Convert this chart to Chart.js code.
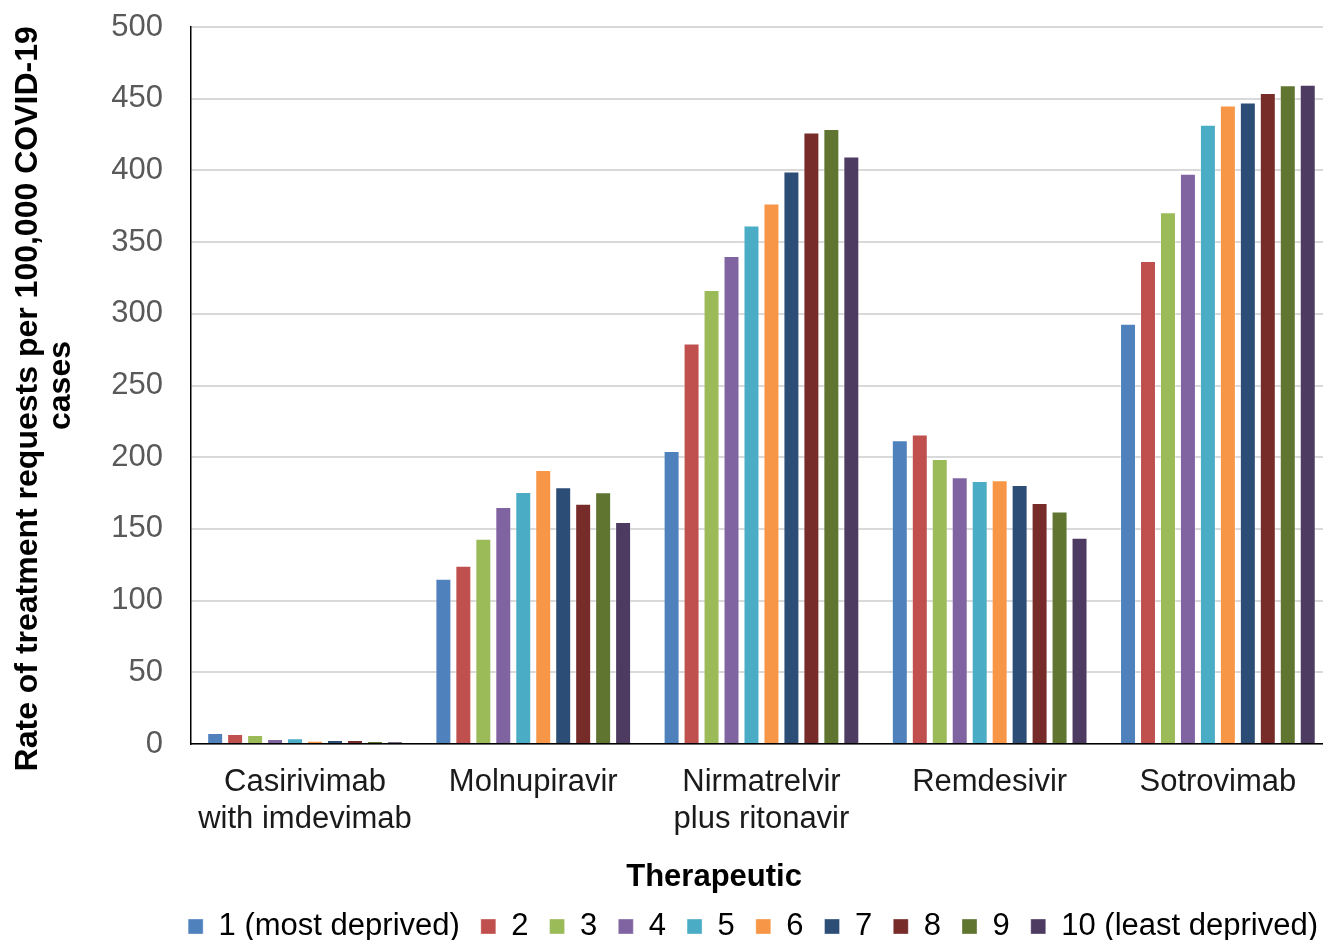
<!DOCTYPE html>
<html><head><meta charset="utf-8">
<script src="https://cdn.jsdelivr.net/npm/chart.js@4"></script>
<style>html,body{margin:0;padding:0;background:#fff}#wrap{width:1323px;height:940px}</style>
</head><body><div id="wrap"><canvas id="c" width="1323" height="940"></canvas></div>
<script>
const categories = [["Casirivimab","with imdevimab"],"Molnupiravir",["Nirmatrelvir","plus ritonavir"],"Remdesivir","Sotrovimab"];
const seriesNames = ["1 (most deprived)","2","3","4","5","6","7","8","9","10 (least deprived)"];
const seriesColors = ["#4F81BD","#C0504D","#9BBB59","#8064A2","#4BACC6","#F79646","#2C4D75","#772C2A","#5F7530","#4D3B62"];
const d1 = [7.7,115.2,204.4,211.8,293.1];
const d2 = [7.0,124.3,279.3,215.8,336.8];
const d3 = [6.3,143.2,316.6,198.8,370.8];
const d4 = [3.5,165.3,340.3,186.0,397.6];
const d5 = [4.0,175.8,361.5,183.4,431.8];
const d6 = [2.3,191.1,376.9,183.9,445.3];
const d7 = [2.8,179.0,399.2,180.6,447.4];
const d8 = [2.8,167.6,426.5,168.0,453.9];
const d9 = [2.1,175.5,428.8,162.2,459.3];
const d10 = [1.6,154.8,409.7,143.9,459.7];
const seriesValues = [d1,d2,d3,d4,d5,d6,d7,d8,d9,d10];
const yTicks = [0,50,100,150,200,250,300,350,400,450,500];

const datasets = seriesNames.map((n,i)=>({
  label:n, data:seriesValues[i], backgroundColor:seriesColors[i],
  borderColor:'rgba(255,255,255,0.35)', borderWidth:1,
  categoryPercentage:0.875, barPercentage:0.8
}));

const layoutTweak = {
  id:'layoutTweak',
  afterLayout(chart){
    if(chart.legend){ chart.legend.left += 17; chart.legend.right += 17; }
    const x = chart.scales.x, ext = 10;
    chart.chartArea.right += ext; chart.chartArea.width += ext;
    x.right += ext; x.width += ext; x.configure();
  }
};

new Chart(document.getElementById('c'),{
  type:'bar',
  data:{labels:categories,datasets},
  plugins:[layoutTweak],
  options:{
    responsive:false, animation:false,
    layout:{padding:{top:27,right:1,left:11,bottom:-12}},
    plugins:{
      legend:{position:'bottom',align:'end',labels:{font:{family:'Liberation Sans',size:31},color:'#000',boxWidth:15,boxHeight:15,padding:21}},
      tooltip:{enabled:false}
    },
    scales:{
      x:{
        grid:{display:false,drawTicks:false},
        border:{color:'#000',width:1.5},
        ticks:{font:{family:'Liberation Sans',size:31,lineHeight:1.19},color:'#1a1a1a',padding:20,maxRotation:0,autoSkip:false},
        title:{display:true,text:'Therapeutic' + '           ',font:{family:'Liberation Sans',size:31,weight:'bold'},color:'#000',padding:{top:1,bottom:-6}}
      },
      y:{
        min:0,max:500,
        afterBuildTicks:(ax)=>{ax.ticks=yTicks.map(v=>({value:v}));},
        grid:{color:'#D9D9D9',lineWidth:2,drawTicks:true,tickLength:26,tickColor:'rgba(0,0,0,0)'},
        border:{color:'#000',width:1.5},
        ticks:{font:{family:'Liberation Sans',size:31},color:'#595959',padding:2},
        title:{display:true,text:['Rate of treatment requests per 100,000 COVID-19   ','cases'],font:{family:'Liberation Sans',size:32,weight:'bold',lineHeight:1.05},color:'#000',padding:{top:0,bottom:31}}
      }
    }
  }
});
</script></body></html>
